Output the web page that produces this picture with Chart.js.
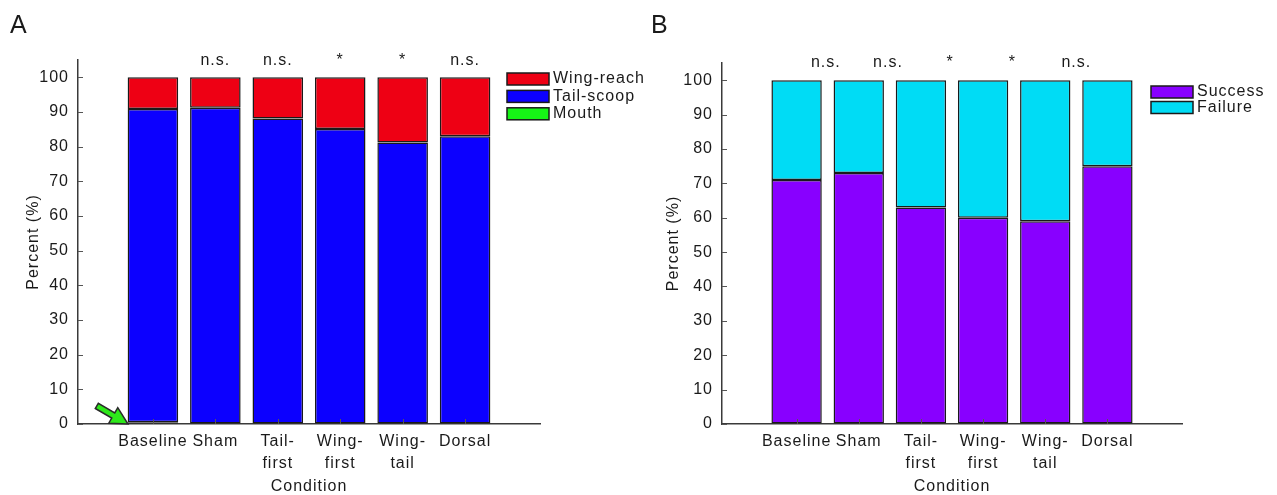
<!DOCTYPE html>
<html>
<head>
<meta charset="utf-8">
<script src="https://cdn.jsdelivr.net/npm/chart.js@4.4.1/dist/chart.umd.min.js"></script>
<style>
    body { margin: 0; background: #fff; }
    #wrap { position: relative; width: 1277px; height: 495px; }
    canvas { position: absolute; top: 0; }
    #chartA { left: 0; }
    #chartB { left: 640px; }
</style>
</head>
<body>
<div id="wrap">
    <canvas id="chartA" width="665" height="495"></canvas>
    <canvas id="chartB" width="637" height="495"></canvas>
</div>
<script>
// 條件 (x軸)
const conditions = ['Baseline', 'Sham', ['Tail-', 'first'], ['Wing-', 'first'], ['Wing-', 'tail'], 'Dorsal'];
const xPos = [1, 2, 3, 4, 5, 6];
const yTicks = [0, 10, 20, 30, 40, 50, 60, 70, 80, 90, 100];

// A: 捕食方式 (%)
const mouth = [0.5, 0, 0, 0, 0, 0];
const tailScoop = [90.4, 91.2, 88.1, 85.1, 81.2, 83.0];
const wingReach = [9.1, 8.8, 11.9, 14.9, 18.8, 17.0];
const sigA = ['', 'n.s.', 'n.s.', '*', '*', 'n.s.'];
const sigAPos = [1, 2, 3, 4, 5, 6];

// B: 成功 / 失敗 (%)
const success = [71, 73, 63, 60, 59, 75];
const failure = [29, 27, 37, 40, 41, 25];
const sigB = ['n.s.', 'n.s.', '*', '*', 'n.s.'];
const sigBPos = [1.47, 2.47, 3.47, 4.47, 5.5];

const FONT = 'Liberation Sans, Arial, Helvetica, sans-serif';
const TXT = '#1a1a1a';
const AXIS = '#3a3a3a';

function pts(vals) {
    return xPos.map((x, i) => ({ x: x, y: vals[i] }));
}

function ds(label, vals, color) {
    return {
        label: label,
        data: pts(vals),
        backgroundColor: color,
        borderColor: '#1a1a1a',
        borderWidth: 1.5,
        borderSkipped: false,
        barPercentage: 0.81,
        categoryPercentage: 1
    };
}

//裝飾: 字母 / 圖例 / 顯著性 / 刻度 / 箭頭
const deco = {
    id: 'deco',
    beforeDraw(chart) {
        chart.ctx.letterSpacing = '1px';
    },
    afterDatasetsDraw(chart, args, o) {
        const ctx = chart.ctx;
        const xs = chart.scales.x, ys = chart.scales.y;
        ctx.save();
        ctx.strokeStyle = '#555';
        ctx.lineWidth = 1;
        // 內向刻度
        yTicks.forEach(v => {
            const y = Math.round(ys.getPixelForValue(v)) + 0.5;
            ctx.beginPath(); ctx.moveTo(xs.left, y); ctx.lineTo(xs.left + 5, y); ctx.stroke();
        });
        xPos.forEach(v => {
            const x = Math.round(xs.getPixelForValue(v)) + 0.5;
            ctx.beginPath(); ctx.moveTo(x, ys.bottom); ctx.lineTo(x, ys.bottom - 5); ctx.stroke();
        });
        ctx.restore();
    },
    afterDraw(chart, args, o) {
        const ctx = chart.ctx;
        const xs = chart.scales.x, ys = chart.scales.y;
        ctx.save();
        ctx.letterSpacing = '1px';
        ctx.fillStyle = TXT;
        // 面板字母
        ctx.font = '25px ' + FONT;
        ctx.textAlign = 'left';
        ctx.textBaseline = 'alphabetic';
        ctx.fillText(o.letter, o.letterX, 33);
        // 顯著性標記
        ctx.font = '16px ' + FONT;
        ctx.textAlign = 'center';
        o.sig.forEach((s, i) => {
            ctx.fillText(s, xs.getPixelForValue(o.sigPos[i]), ys.top + o.sigDy);
        });
        // 圖例
        ctx.textAlign = 'left';
        ctx.textBaseline = 'middle';
        o.legend.forEach((it, i) => {
            const y = o.legY + i * o.legStep;
            ctx.fillStyle = it.color;
            ctx.fillRect(o.legX, y, 42, 12);
            ctx.strokeStyle = '#1a1a1a';
            ctx.lineWidth = 1.5;
            ctx.strokeRect(o.legX, y, 42, 12);
            ctx.fillStyle = TXT;
            ctx.fillText(it.label, o.legX + 46, y + 6);
        });
        // 箭頭 (指向 Mouth)
        if (o.arrow) {
            const tx = xs.getPixelForValue(0.6), ty = ys.getPixelForValue(0);
            const dx = 31, dy = 18, len = Math.hypot(dx, dy);
            const ux = dx / len, uy = dy / len, px = -uy, py = ux;
            const sx = tx - ux * 36, sy = ty - uy * 36;
            const hb = 17, hw = 9, sw = 3;
            const bx = tx - ux * hb, by = ty - uy * hb;
            ctx.beginPath();
            ctx.moveTo(sx + px * sw, sy + py * sw);
            ctx.lineTo(bx + px * sw, by + py * sw);
            ctx.lineTo(bx + px * hw, by + py * hw);
            ctx.lineTo(tx, ty);
            ctx.lineTo(bx - px * hw, by - py * hw);
            ctx.lineTo(bx - px * sw, by - py * sw);
            ctx.lineTo(sx - px * sw, sy - py * sw);
            ctx.closePath();
            ctx.fillStyle = '#2ee81a';
            ctx.fill();
            ctx.strokeStyle = '#2a2a2a';
            ctx.lineWidth = 1.5;
            ctx.stroke();
        }
        ctx.restore();
    }
};

function makeChart(id, datasets, yWidth, pad, o) {
    return new Chart(document.getElementById(id), {
        type: 'bar',
        data: { datasets: datasets },
        plugins: [deco],
        options: {
            responsive: false,
            animation: false,
            layout: { padding: pad },
            plugins: {
                legend: { display: false },
                tooltip: { enabled: false },
                deco: o
            },
            scales: {
                x: {
                    type: 'linear',
                    stacked: true,
                    offset: false,
                    min: -0.2,
                    max: 7.2,
                    afterBuildTicks: s => { s.ticks = xPos.map(v => ({ value: v })); },
                    afterFit: s => { s.height = 71; },
                    grid: { drawOnChartArea: false, drawTicks: false, offset: false },
                    border: { display: true, color: AXIS, width: 1.5 },
                    ticks: {
                        padding: 6,
                        color: TXT,
                        maxRotation: 0,
                        autoSkip: false,
                        font: { family: FONT, size: 16, lineHeight: 1.4 },
                        callback: v => conditions[xPos.indexOf(v)]
                    },
                    title: {
                        display: true, text: 'Condition', color: TXT,
                        font: { family: FONT, size: 16, lineHeight: 1 }, padding: { top: 0, bottom: 0 }
                    }
                },
                y: {
                    stacked: true,
                    min: 0,
                    max: 105,
                    afterBuildTicks: s => { s.ticks = yTicks.map(v => ({ value: v })); },
                    afterFit: s => { s.width = yWidth; },
                    grid: { drawOnChartArea: false, drawTicks: false },
                    border: { display: true, color: AXIS, width: 1.5 },
                    ticks: { padding: 9, color: TXT, font: { family: FONT, size: 16 } },
                    title: {
                        display: true, text: 'Percent (%)', color: TXT,
                        font: { family: FONT, size: 16 }, padding: { top: 24, bottom: 0 }
                    }
                }
            }
        }
    });
}

makeChart('chartA', [
    ds('Mouth', mouth, '#16f516'),
    ds('Tail-scoop', tailScoop, '#0c00ff'),
    ds('Wing-reach', wingReach, '#ee0014')
], 78, { left: 0, top: 60, right: 125, bottom: 0 }, {
    letter: 'A', letterX: 10,
    sig: sigA, sigPos: sigAPos, sigDy: 5,
    legX: 507, legY: 73, legStep: 17.4,
    legend: [
        { label: 'Wing-reach', color: '#ee0014' },
        { label: 'Tail-scoop', color: '#0c00ff' },
        { label: 'Mouth', color: '#16f516' }
    ],
    arrow: true
});

makeChart('chartB', [
    ds('Success', success, '#8800ff'),
    ds('Failure', failure, '#00dcf5')
], 82, { left: 0, top: 63, right: 95, bottom: 0 }, {
    letter: 'B', letterX: 11,
    sig: sigB, sigPos: sigBPos, sigDy: 4,
    legX: 511, legY: 86, legStep: 15.5,
    legend: [
        { label: 'Success', color: '#8800ff' },
        { label: 'Failure', color: '#00dcf5' }
    ],
    arrow: false
});
</script>
</body>
</html>
